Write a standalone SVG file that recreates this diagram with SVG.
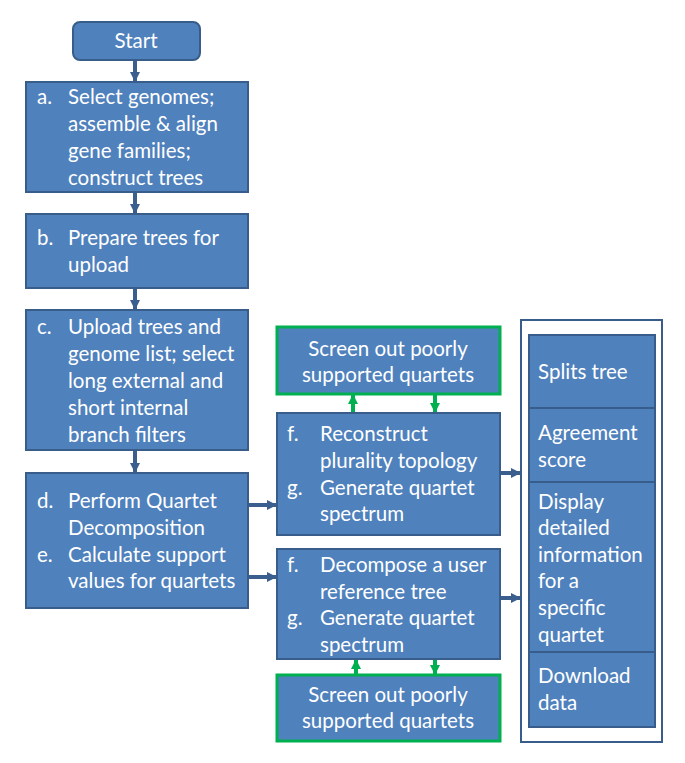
<svg xmlns="http://www.w3.org/2000/svg" width="685" height="763" viewBox="0 0 685 763">
<defs>
<style>
.box{fill:#4F81BD;stroke:#385D8A;stroke-width:2}
.gbox{fill:#4F81BD;stroke:#00B050;stroke-width:3}
.cont{fill:#fff;stroke:#385D8A;stroke-width:2}
text{font-family:Lato,"Open Sans","Liberation Sans",sans-serif;font-size:20.5px;fill:#fff}
.c{text-anchor:middle}
.con{stroke:#3A5F8F;stroke-width:4;fill:none}
.gcon{stroke:#00B050;stroke-width:4;fill:none}
</style>
<marker id="ab" viewBox="0 0 10 10" refX="9" refY="5" markerWidth="2.5" markerHeight="2.5" orient="auto" markerUnits="strokeWidth"><path d="M0,0L10,5L0,10z" fill="#3A5F8F"/></marker>
<marker id="ag" viewBox="0 0 10 10" refX="9" refY="5" markerWidth="2.5" markerHeight="2.5" orient="auto" markerUnits="strokeWidth"><path d="M0,0L10,5L0,10z" fill="#00B050"/></marker>
</defs>
<g id="connectors">
<line class="con" x1="135" y1="60" x2="135" y2="81" marker-end="url(#ab)"/>
<line class="con" x1="135" y1="192" x2="135" y2="213" marker-end="url(#ab)"/>
<line class="con" x1="135" y1="288" x2="135" y2="309" marker-end="url(#ab)"/>
<line class="con" x1="135" y1="450" x2="135" y2="472" marker-end="url(#ab)"/>
<line class="con" x1="248" y1="505" x2="276" y2="505" marker-end="url(#ab)"/>
<line class="con" x1="248" y1="577" x2="276" y2="577" marker-end="url(#ab)"/>
<line class="con" x1="500" y1="473" x2="520" y2="473" marker-end="url(#ab)"/>
<line class="con" x1="500" y1="598" x2="520" y2="598" marker-end="url(#ab)"/>
<line class="gcon" x1="353" y1="413" x2="353" y2="395" marker-end="url(#ag)"/>
<line class="gcon" x1="435" y1="394" x2="435" y2="412" marker-end="url(#ag)"/>
<line class="gcon" x1="356" y1="675" x2="356" y2="660" marker-end="url(#ag)"/>
<line class="gcon" x1="435" y1="659" x2="435" y2="674" marker-end="url(#ag)"/>
</g>
<g id="start"><rect class="box" x="73" y="22" width="127" height="38" rx="7"/><text class="c" x="136" y="48">Start</text></g>
<g id="a"><rect class="box" x="26" y="82" width="222" height="110"/>
<text x="37" y="104">a.</text><text x="68" y="104">Select genomes;</text><text x="68" y="131">assemble &amp; align</text><text x="68" y="158">gene families;</text><text x="68" y="185">construct trees</text></g>
<g id="b"><rect class="box" x="26" y="214" width="222" height="74"/>
<text x="37" y="245">b.</text><text x="68" y="245">Prepare trees for</text><text x="68" y="272">upload</text></g>
<g id="c"><rect class="box" x="26" y="310" width="222" height="140"/>
<text x="37" y="334">c.</text><text x="68" y="334">Upload trees and</text><text x="68" y="361">genome list; select</text><text x="68" y="388">long external and</text><text x="68" y="415">short internal</text><text x="68" y="442">branch filters</text></g>
<g id="d"><rect class="box" x="26" y="473" width="222" height="135"/>
<text x="37" y="508">d.</text><text x="68" y="508">Perform Quartet</text><text x="68" y="535">Decomposition</text><text x="37" y="562">e.</text><text x="68" y="562">Calculate support</text><text x="68" y="588">values for quartets</text></g>
<g id="screen1"><rect class="gbox" x="277" y="327" width="223" height="67"/>
<text class="c" x="388" y="356">Screen out poorly</text><text class="c" x="388" y="382">supported quartets</text></g>
<g id="f1"><rect class="box" x="277" y="413" width="223" height="122"/>
<text x="287" y="441">f.</text><text x="320" y="441">Reconstruct</text><text x="320" y="468">plurality topology</text><text x="287" y="495">g.</text><text x="320" y="495">Generate quartet</text><text x="320" y="521">spectrum</text></g>
<g id="f2"><rect class="box" x="277" y="549" width="223" height="110"/>
<text x="287" y="572">f.</text><text x="320" y="572">Decompose a user</text><text x="320" y="599">reference tree</text><text x="287" y="625">g.</text><text x="320" y="625">Generate quartet</text><text x="320" y="652">spectrum</text></g>
<g id="screen2"><rect class="gbox" x="277" y="675" width="223" height="66"/>
<text class="c" x="388" y="702">Screen out poorly</text><text class="c" x="388" y="728">supported quartets</text></g>
<g id="outputs"><rect class="cont" x="521" y="320" width="141" height="422"/>
<g id="splits"><rect class="box" x="529" y="335" width="126" height="73"/><text x="538" y="379">Splits tree</text></g>
<g id="agreement"><rect class="box" x="529" y="408" width="126" height="74"/><text x="538" y="440">Agreement</text><text x="538" y="467">score</text></g>
<g id="display"><rect class="box" x="529" y="482" width="126" height="170"/><text x="538" y="509">Display</text><text x="538" y="535">detailed</text><text x="538" y="562">information</text><text x="538" y="588">for a</text><text x="538" y="615">specific</text><text x="538" y="642">quartet</text></g>
<g id="download"><rect class="box" x="529" y="652" width="126" height="75"/><text x="538" y="683">Download</text><text x="538" y="710">data</text></g>
</g>
</svg>
